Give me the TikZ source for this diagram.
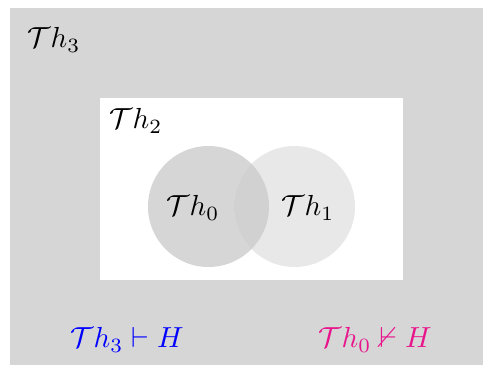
\documentclass[tikz,border=0pt]{standalone}
\usepackage{graphicx}
\usepackage{amssymb}
\definecolor{bggray}{RGB}{214,214,214}
\definecolor{lcirc}{RGB}{214,214,214}
\definecolor{rcirc}{RGB}{232,232,232}
\definecolor{ovl}{RGB}{209,209,209}
\definecolor{mypink}{RGB}{232,20,140}
\newcommand{\mylbl}[1]{\scalebox{2.9}{$#1$}}
\tikzset{lbl/.style={inner sep=0pt}}
\begin{document}
\begin{tikzpicture}[x=1pt,y=-1pt]
\useasboundingbox (0,0) rectangle (483,365);
\fill[bggray] (10,8) rectangle (483,365);
\fill[white] (100,98) rectangle (403,280);
\fill[lcirc] (208.5,206.5) circle (60.5);
\fill[rcirc] (294.5,206.5) circle (60.5);
\begin{scope}
\clip (208.5,206.5) circle (60.5);
\fill[ovl] (294.5,206.5) circle (60.5);
\end{scope}
\node[lbl] (t3) at (54,40) {\mylbl{\mathcal{T}h_3}};
\node[lbl] (t2) at (136,121) {\mylbl{\mathcal{T}h_2}};
\node[lbl] (t0) at (193,208) {\mylbl{\mathcal{T}h_0}};
\node[lbl] (t1) at (308,208) {\mylbl{\mathcal{T}h_1}};
\node[lbl, text=blue] (p1) at (127,340) {\mylbl{\mathcal{T}h_3 \vdash H}};
\node[lbl, text=mypink] (p2) at (375,340) {\mylbl{\mathcal{T}h_0 \nvdash H}};
\end{tikzpicture}
\end{document}
